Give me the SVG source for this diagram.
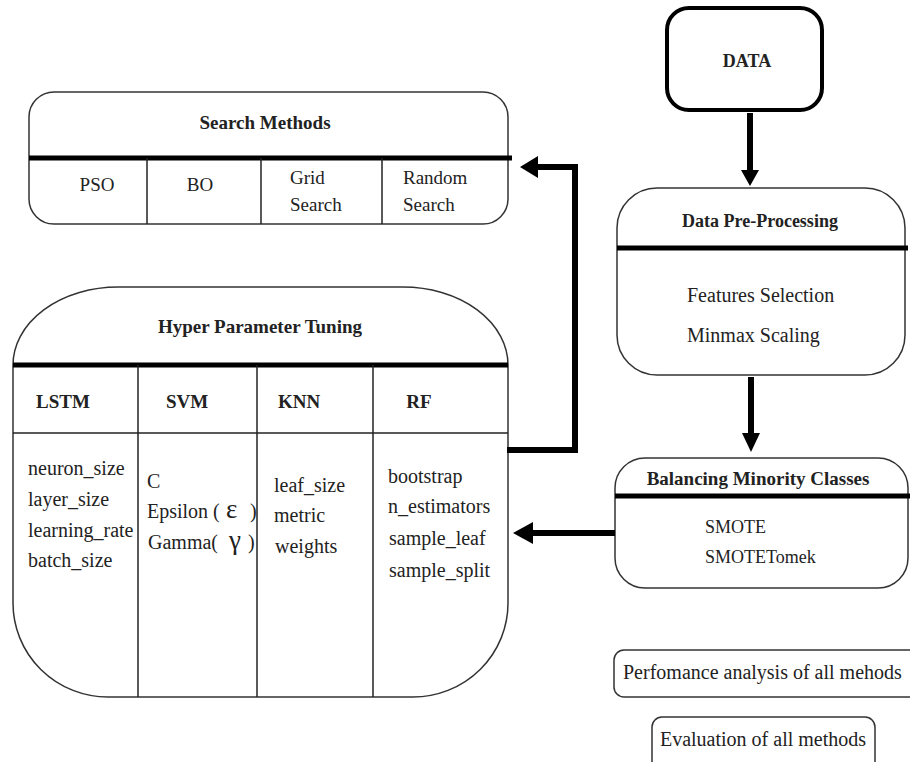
<svg xmlns="http://www.w3.org/2000/svg" width="910" height="762" viewBox="0 0 910 762">
<style>
text{font-family:"Liberation Serif","Times New Roman",serif;fill:#222;}
.t{font-weight:bold;font-size:19px;text-anchor:middle;}
.b{font-size:20px;}
.s{font-size:19px;}
.box{fill:#fff;stroke:#333;stroke-width:1.5;}
.thin{stroke:#222;stroke-width:1.5;fill:none;}
.thick{stroke:#000;stroke-width:5;fill:none;}
.conn{stroke:#000;stroke-width:6;fill:none;}
.head{fill:#000;}
.g{font-size:27px;}
</style>
<rect width="910" height="762" fill="#fff"/>

<g id="search-methods">
<rect class="box" x="29" y="92" width="479" height="132" rx="25"/>
<line class="thick" x1="29" y1="158" x2="512" y2="158"/>
<line class="thin" x1="147" y1="158" x2="147" y2="224"/>
<line class="thin" x1="261" y1="158" x2="261" y2="224"/>
<line class="thin" x1="382" y1="158" x2="382" y2="224"/>
<text class="t" x="265" y="129">Search Methods</text>
<text class="s" x="97" y="191" text-anchor="middle">PSO</text>
<text class="s" x="200" y="191" text-anchor="middle">BO</text>
<text class="s" x="290" y="184">Grid</text>
<text class="s" x="290" y="211">Search</text>
<text class="s" x="403" y="184">Random</text>
<text class="s" x="403" y="211">Search</text>
</g>

<g id="hyper-parameter-tuning">
<path class="box" d="M118,287 H403 A105,78 0 0 1 508,365 V603 A95,94 0 0 1 413,697 H108 A95,94 0 0 1 13,603 V365 A105,78 0 0 1 118,287 Z"/>
<line class="thick" x1="13" y1="365" x2="508" y2="365"/>
<line class="thin" x1="13" y1="433" x2="508" y2="433"/>
<line class="thin" x1="138" y1="365" x2="138" y2="697"/>
<line class="thin" x1="257" y1="365" x2="257" y2="697"/>
<line class="thin" x1="373" y1="365" x2="373" y2="697"/>
<text class="t" x="260" y="333">Hyper Parameter Tuning</text>
<text class="t" x="63" y="408">LSTM</text>
<text class="t" x="187" y="408">SVM</text>
<text class="t" x="299" y="408">KNN</text>
<text class="t" x="419" y="408">RF</text>
<text class="b" x="28" y="475">neuron_size</text>
<text class="b" x="28" y="506">layer_size</text>
<text class="b" x="28" y="537">learning_rate</text>
<text class="b" x="28" y="567">batch_size</text>
<text class="b" x="147" y="488">C</text>
<text class="b" x="147" y="518">Epsilon (</text>
<text class="g" x="226" y="518">ε</text>
<text class="b" x="250" y="518">)</text>
<text class="b" x="148" y="549">Gamma(</text>
<text class="g" x="229" y="549">γ</text>
<text class="b" x="248" y="549">)</text>
<text class="b" x="274" y="492">leaf_size</text>
<text class="b" x="274" y="522">metric</text>
<text class="b" x="275" y="553">weights</text>
<text class="b" x="388" y="483">bootstrap</text>
<text class="b" x="388" y="513">n_estimators</text>
<text class="b" x="389" y="545">sample_leaf</text>
<text class="b" x="389" y="577">sample_split</text>
</g>

<g id="data">
<rect x="667" y="8" width="155" height="102" rx="22" fill="#fff" stroke="#000" stroke-width="4"/>
<text class="t" x="747" y="67" style="font-size:18px">DATA</text>
</g>

<g id="data-pre-processing">
<rect class="box" x="617" y="188" width="288" height="187" rx="40"/>
<line class="thick" x1="617" y1="248" x2="908" y2="248"/>
<text class="t" x="760" y="227" style="font-size:18px">Data Pre-Processing</text>
<text class="b" x="687" y="302">Features Selection</text>
<text class="b" x="687" y="342">Minmax Scaling</text>
</g>

<g id="balancing-minority-classes">
<rect class="box" x="615" y="458" width="293" height="130" rx="30"/>
<line class="thick" x1="615" y1="496" x2="910" y2="496"/>
<text class="t" x="758" y="485">Balancing Minority Classes</text>
<text class="b" x="705" y="533" style="font-size:18px">SMOTE</text>
<text class="b" x="705" y="563" style="font-size:18px">SMOTETomek</text>
</g>

<g id="performance-analysis">
<rect class="box" x="614" y="650" width="310" height="47" rx="10"/>
<text class="b" x="623" y="679">Perfomance analysis of all mehods</text>
</g>

<g id="evaluation">
<rect class="box" x="652" y="717" width="223" height="60" rx="10"/>
<text class="b" x="763" y="746" text-anchor="middle">Evaluation of all methods</text>
</g>

<g id="connectors">
<line class="conn" x1="750" y1="113" x2="750" y2="172"/>
<polygon class="head" points="741,170 759,170 750,186"/>
<line class="conn" x1="751" y1="377" x2="751" y2="436"/>
<polygon class="head" points="742,433 760,433 751,452"/>
<line class="conn" x1="615" y1="533" x2="530" y2="533"/>
<polygon class="head" points="533,522 533,544 513,533"/>
<polyline class="conn" points="507,450 575,450 575,167 535,167"/>
<polygon class="head" points="538,156 538,178 520,167"/>
</g>
</svg>
